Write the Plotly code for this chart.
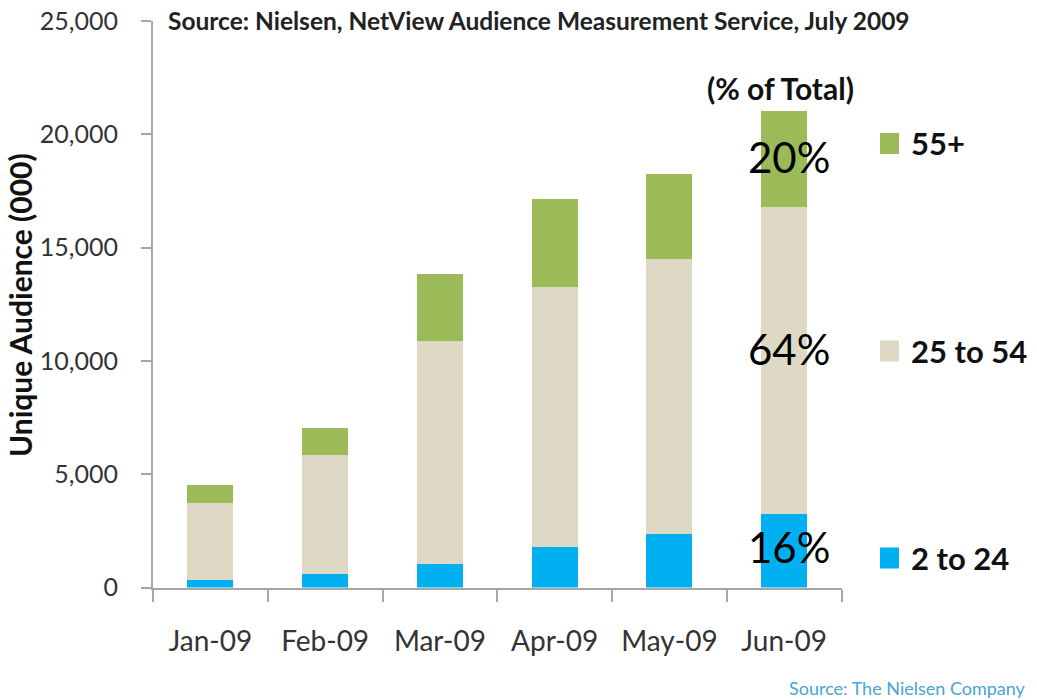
import plotly.graph_objects as go

W, H = 1037, 700

months = ["Jan-09", "Feb-09", "Mar-09", "Apr-09", "May-09", "Jun-09"]
age_2_24 = [330, 600, 1050, 1790, 2350, 3260]
age_25_54 = [3390, 5230, 9830, 11470, 12130, 13520]
age_55_plus = [820, 1200, 2950, 3880, 3770, 4230]
series_names = ["2 to 24", "25 to 54", "55+"]
series_colors = ["#00B0F0", "#DDD9C4", "#9BBB59"]
y_ticks = [0, 5000, 10000, 15000, 20000, 25000]

FONT = "Lato"
TXT = "#333333"
AXC = "#A6A6A6"

# plot area in pixels
x0, x1 = 153, 841.5
y_top, y_bot = 21, 587.5

def px(x):
    return x / W

def py(y):
    return 1 - y / H

fig = go.Figure()
series = [age_2_24, age_25_54, age_55_plus]
for name, vals, col in zip(series_names, series, series_colors):
    fig.add_trace(go.Bar(x=months, y=vals, name=name, marker=dict(color=col, line=dict(width=0)),
                         width=0.4, showlegend=False))

fig.update_layout(
    barmode="stack",
    width=W, height=H,
    margin=dict(l=0, r=0, t=0, b=0, autoexpand=False),
    paper_bgcolor="white", plot_bgcolor="white",
    font=dict(family=FONT, color=TXT),
    xaxis=dict(domain=[px(x0), px(x1)], range=[-0.5, 5.5], showline=True, linecolor=AXC, linewidth=2,
               ticks="outside", tickson="boundaries", ticklen=12, tickcolor=AXC, tickwidth=2,
               tickfont=dict(size=28, color=TXT), ticklabelstandoff=28, showgrid=False,
               automargin=False),
    yaxis=dict(domain=[py(y_bot), py(y_top)], range=[0, 25000], tickvals=y_ticks, tickformat=",",
               showline=True, linecolor=AXC, linewidth=2, ticks="outside", ticklen=10, tickcolor=AXC,
               tickwidth=2, tickfont=dict(size=25, color=TXT), ticklabelstandoff=18, showgrid=False,
               zeroline=False, automargin=False),
)

ann = []
# title
ann.append(dict(text="<b>Source: Nielsen, NetView Audience Measurement Service, July 2009</b>",
                x=px(166), y=py(20), xref="paper", yref="paper", xanchor="left", yanchor="middle",
                showarrow=False, font=dict(size=24.5, color="#222222", family=FONT)))
# y title
ann.append(dict(text="<b>Unique Audience (000)</b>", x=px(20), y=py(305), xref="paper", yref="paper",
                textangle=-90, showarrow=False, xanchor="center", yanchor="middle",
                font=dict(size=30, color="#111111", family=FONT)))
# % of total
ann.append(dict(text="<b>(% of Total)</b>", x=px(780), y=py(88), xref="paper", yref="paper",
                xanchor="center", yanchor="middle",
                showarrow=False, font=dict(size=30, color="#111111", family=FONT)))
# percentages on last bar
last = len(months) - 1
total = sum(s[last] for s in series)
base = 0
pct_yshift = [4, 11, 2]
for vals, ys in zip(series, pct_yshift):
    seg = vals[last]
    pct = round(seg / total * 100)
    ann.append(dict(text=f"{pct}%", x=months[last], y=base + seg / 2, xref="x", yref="y",
                    xanchor="center", yanchor="middle",
                    xshift=5, yshift=ys, showarrow=False,
                    font=dict(size=42, color="black", family=FONT)))
    base += seg

# manual legend
legend_y = {"55+": 143.5, "25 to 54": 351, "2 to 24": 558}
shapes = []
for name, col in zip(series_names, series_colors):
    cy = legend_y[name]
    shapes.append(dict(type="rect", xref="paper", yref="paper", x0=px(880), x1=px(899),
                       y0=py(cy + 10.5), y1=py(cy - 10.5), fillcolor=col, line=dict(width=0)))
    ann.append(dict(text=f"<b>{name}</b>", x=px(909), y=py(cy), xref="paper", yref="paper",
                    xanchor="left", yanchor="middle", showarrow=False,
                    font=dict(size=31, color="#111111", family=FONT)))

ann.append(dict(text="Source: The Nielsen Company", x=px(1028), y=py(688), xref="paper", yref="paper",
                xanchor="right", yanchor="middle", showarrow=False,
                font=dict(size=18, color="#4AA3D9", family=FONT)))

fig.update_layout(annotations=ann, shapes=shapes)
fig.write_html("out.html")
